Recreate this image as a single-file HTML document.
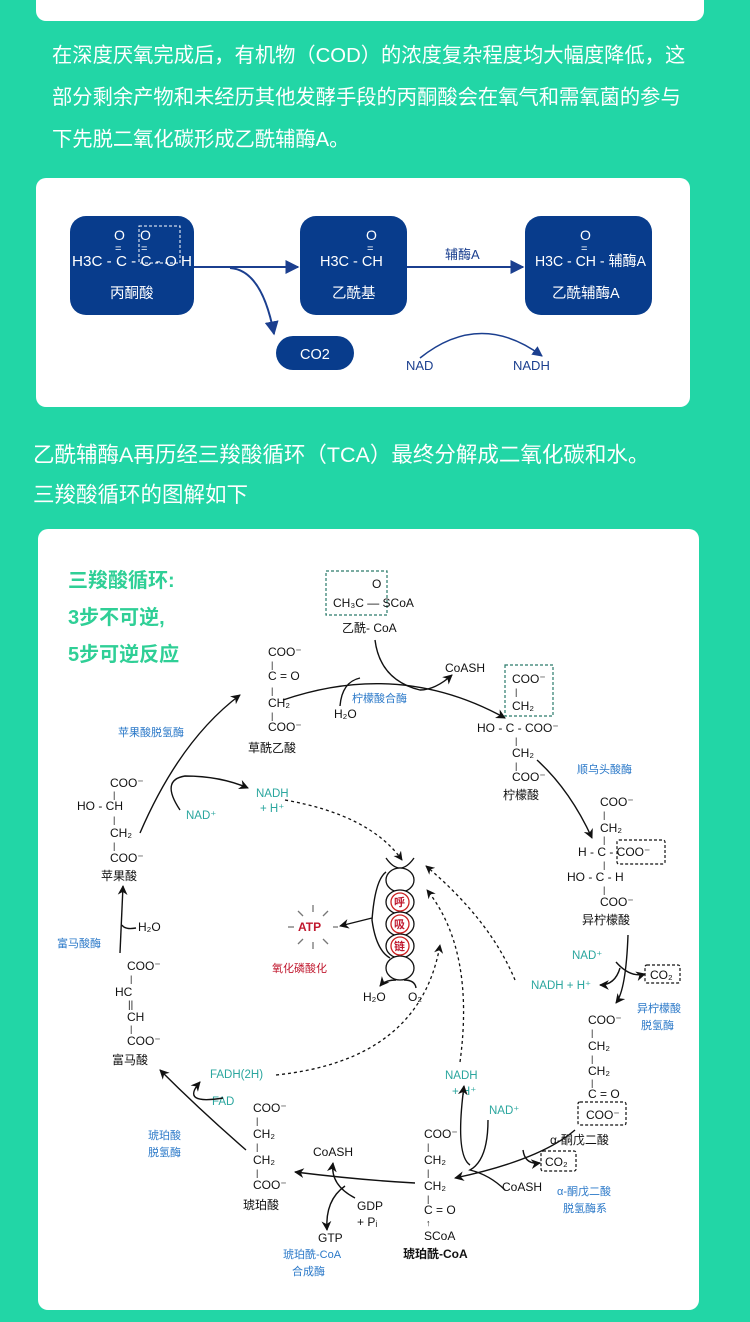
<!DOCTYPE html>
<html><head><meta charset="utf-8"><style>
html,body{margin:0;padding:0;background:#22d6a6;}
body{width:750px;height:1322px;position:relative;overflow:hidden;font-family:"Liberation Sans","Noto Sans CJK SC",sans-serif;}
.card{position:absolute;background:#fff;border-radius:10px;}
.p{position:absolute;color:#fff;line-height:42px;white-space:nowrap;}
svg text{font-family:"Liberation Sans","Noto Sans CJK SC",sans-serif;}
</style></head><body>
<div class="card" style="left:36px;top:-20px;width:668px;height:41px;"></div>
<div class="p" style="left:52px;top:35px;font-size:20.3px;">在深度厌氧完成后，有机物（COD）的浓度复杂程度均大幅度降低，这<br>部分剩余产物和未经历其他发酵手段的丙酮酸会在氧气和需氧菌的参与<br>下先脱二氧化碳形成乙酰辅酶A。</div>
<div class="card" style="left:36px;top:178px;width:654px;height:229px;"></div>
<div class="p" style="left:33px;top:435px;font-size:21.5px;line-height:40px;">乙酰辅酶A再历经三羧酸循环（TCA）最终分解成二氧化碳和水。<br>三羧酸循环的图解如下</div>
<div class="card" style="left:38px;top:529px;width:661px;height:781px;"></div>

<svg style="position:absolute;left:0;top:0" width="750" height="1322" viewBox="0 0 750 1322">
<defs>
<marker id="ab" viewBox="0 0 10 10" refX="9" refY="5" markerWidth="7" markerHeight="7" orient="auto"><path d="M0,0 L10,5 L0,10 z" fill="#1b3f8f"/></marker>
<marker id="ak" viewBox="0 0 10 10" refX="9" refY="5" markerWidth="7" markerHeight="7" orient="auto"><path d="M0,0 L10,5 L0,10 L3,5 z" fill="#111"/></marker>
</defs>
<!-- card 2 -->
<g fill="#083c8c">
<rect x="70" y="216" width="124" height="99" rx="16"/>
<rect x="300" y="216" width="107" height="99" rx="16"/>
<rect x="525" y="216" width="127" height="99" rx="16"/>
<rect x="276" y="336" width="78" height="34" rx="17"/>
</g>
<g fill="#fff" font-size="14.5">
<text x="72" y="266" textLength="120" lengthAdjust="spacingAndGlyphs">H3C - C - C - O H</text>
<text x="110" y="298">丙酮酸</text>
<text x="320" y="266">H3C - CH</text>
<text x="332" y="298">乙酰基</text>
<text x="535" y="266" textLength="111" lengthAdjust="spacingAndGlyphs">H3C - CH - 辅酶A</text>
<text x="552" y="298">乙酰辅酶A</text>
<text x="300" y="359">CO2</text>
<text x="114" y="240" font-size="14">O</text><text x="115" y="252" font-size="11">=</text>
<text x="140" y="240" font-size="14">O</text><text x="141" y="252" font-size="11">=</text>
<text x="366" y="240" font-size="14">O</text><text x="367" y="252" font-size="11">=</text>
<text x="580" y="240" font-size="14">O</text><text x="581" y="252" font-size="11">=</text>
</g>
<rect x="139" y="226" width="41" height="37" fill="none" stroke="#fff" stroke-dasharray="3,2" stroke-width="1"/>
<g stroke="#1b3f8f" stroke-width="2" fill="none">
<line x1="194" y1="267" x2="298" y2="267" marker-end="url(#ab)"/>
<line x1="407" y1="267" x2="523" y2="267" marker-end="url(#ab)"/>
<path d="M230,268 Q262,270 274,334" marker-end="url(#ab)"/>
<path d="M420,358 Q480,310 542,356" stroke-width="1.5" marker-end="url(#ab)"/>
</g>
<g fill="#1b3f8f" font-size="13"><text x="445" y="259">辅酶A</text><text x="406" y="370">NAD</text><text x="513" y="370">NADH</text></g>

<!-- cycle title -->
<g fill="#2fcf96" font-size="20" font-weight="bold">
<text x="68" y="587">三羧酸循环:</text><text x="68" y="624">3步不可逆,</text><text x="68" y="661">5步可逆反应</text>
</g>
<g fill="none" stroke="#2a7a6a" stroke-dasharray="3,2" stroke-width="1.2">
<rect x="326" y="571" width="61" height="44"/>
<rect x="505" y="665" width="48" height="51"/>
</g>
<g fill="none" stroke="#111" stroke-dasharray="3,2" stroke-width="1.2">
<rect x="617" y="840" width="48" height="24" rx="2"/>
<rect x="645" y="965" width="35" height="18" rx="2"/>
<rect x="578" y="1102" width="48" height="23" rx="2"/>
<rect x="541" y="1151" width="35" height="20" rx="2"/>
</g>
<g fill="#111" font-size="12">
<text x="372" y="588">O</text><text x="333" y="607">CH₃C — SCoA</text>
<text x="342" y="632">乙酰- CoA</text>
<text x="268" y="656">COO⁻</text><text x="271" y="668" font-size="9">|</text><text x="268" y="680">C = O</text><text x="271" y="694" font-size="9">|</text><text x="268" y="707">CH₂</text><text x="271" y="719" font-size="9">|</text><text x="268" y="731">COO⁻</text>
<text x="248" y="752">草酰乙酸</text>
<text x="445" y="672">CoASH</text><text x="334" y="718">H₂O</text>
<text x="512" y="683">COO⁻</text><text x="515" y="695" font-size="9">|</text><text x="512" y="710">CH₂</text><text x="477" y="732">HO - C - COO⁻</text><text x="515" y="744" font-size="9">|</text><text x="512" y="757">CH₂</text><text x="515" y="769" font-size="9">|</text><text x="512" y="781">COO⁻</text>
<text x="503" y="799">柠檬酸</text>
<text x="600" y="806">COO⁻</text><text x="603" y="818" font-size="9">|</text><text x="600" y="832">CH₂</text><text x="603" y="843" font-size="9">|</text><text x="578" y="856">H - C - COO⁻</text><text x="603" y="868" font-size="9">|</text><text x="567" y="881">HO - C - H</text><text x="603" y="893" font-size="9">|</text><text x="600" y="906">COO⁻</text>
<text x="582" y="924">异柠檬酸</text>
<text x="650" y="979">CO₂</text>
<text x="588" y="1024">COO⁻</text><text x="591" y="1036" font-size="9">|</text><text x="588" y="1050">CH₂</text><text x="591" y="1062" font-size="9">|</text><text x="588" y="1075">CH₂</text><text x="591" y="1086" font-size="9">|</text><text x="588" y="1098">C = O</text><text x="586" y="1119">COO⁻</text>
<text x="550" y="1144">α-酮戊二酸</text>
<text x="545" y="1166">CO₂</text>
<text x="502" y="1191">CoASH</text>
<text x="424" y="1138">COO⁻</text><text x="427" y="1150" font-size="9">|</text><text x="424" y="1164">CH₂</text><text x="427" y="1176" font-size="9">|</text><text x="424" y="1190">CH₂</text><text x="427" y="1202" font-size="9">|</text><text x="424" y="1214">C = O</text><text x="426" y="1226" font-size="9">↑</text><text x="424" y="1240">SCoA</text>
<text x="403" y="1258" font-weight="bold">琥珀酰-CoA</text>
<text x="313" y="1156">CoASH</text><text x="357" y="1210">GDP</text><text x="357" y="1226">+ Pᵢ</text><text x="318" y="1242">GTP</text>
<text x="253" y="1112">COO⁻</text><text x="256" y="1124" font-size="9">|</text><text x="253" y="1138">CH₂</text><text x="256" y="1150" font-size="9">|</text><text x="253" y="1164">CH₂</text><text x="256" y="1176" font-size="9">|</text><text x="253" y="1189">COO⁻</text>
<text x="243" y="1209">琥珀酸</text>
<text x="127" y="970">COO⁻</text><text x="130" y="982" font-size="9">|</text><text x="115" y="996">HC</text><text x="128" y="1008" font-size="10">||</text><text x="127" y="1021">CH</text><text x="130" y="1032" font-size="9">|</text><text x="127" y="1045">COO⁻</text><text x="112" y="1064">富马酸</text>
<text x="138" y="931">H₂O</text>
<text x="110" y="787">COO⁻</text><text x="113" y="798" font-size="9">|</text><text x="77" y="810">HO - CH</text><text x="113" y="823" font-size="9">|</text><text x="110" y="837">CH₂</text><text x="113" y="849" font-size="9">|</text><text x="110" y="862">COO⁻</text><text x="101" y="880">苹果酸</text>
<text x="363" y="1001">H₂O</text><text x="408" y="1001">O₂</text>
</g>
<g fill="#2a78c8" font-size="11" font-family="Liberation Serif,Noto Serif CJK SC,serif">
<text x="352" y="702">柠檬酸合酶</text><text x="577" y="773">顺乌头酸酶</text>
<text x="637" y="1012">异柠檬酸</text><text x="641" y="1029">脱氢酶</text>
<text x="557" y="1195">α-酮戊二酸</text><text x="563" y="1212">脱氢酶系</text>
<text x="283" y="1258">琥珀酰-CoA</text><text x="292" y="1275">合成酶</text>
<text x="148" y="1139">琥珀酸</text><text x="148" y="1156">脱氢酶</text>
<text x="57" y="947">富马酸酶</text><text x="118" y="736">苹果酸脱氢酶</text>
</g>
<g fill="#2aa69e" font-size="11.5">
<text x="186" y="819">NAD⁺</text><text x="256" y="797">NADH</text><text x="260" y="812">+ H⁺</text>
<text x="572" y="959">NAD⁺</text><text x="531" y="989">NADH + H⁺</text>
<text x="445" y="1079">NADH</text><text x="452" y="1095">+ H⁺</text><text x="489" y="1114">NAD⁺</text>
<text x="210" y="1078">FADH(2H)</text><text x="212" y="1105">FAD</text>
</g>
<g fill="#fff" stroke="#111" stroke-width="1.3">
<path d="M386,858 Q400,878 414,858" fill="none"/>
<ellipse cx="400" cy="880" rx="14" ry="12"/>
<ellipse cx="400" cy="902" rx="14" ry="12"/>
<ellipse cx="400" cy="924" rx="14" ry="12"/>
<ellipse cx="400" cy="946" rx="14" ry="12"/>
<ellipse cx="400" cy="968" rx="14" ry="12"/>
<ellipse cx="400" cy="902" rx="9" ry="9" fill="none" stroke="#c22"/>
<ellipse cx="400" cy="924" rx="9" ry="9" fill="none" stroke="#c22"/>
<ellipse cx="400" cy="946" rx="9" ry="9" fill="none" stroke="#c22"/>
</g>
<g fill="#c0182e" font-size="11" font-weight="bold" font-family="Liberation Serif,Noto Serif CJK SC,serif">
<text x="394" y="906">呼</text><text x="394" y="928">吸</text><text x="394" y="950">链</text>
<text x="298" y="931" font-size="12">ATP</text>
<text x="272" y="972" font-weight="normal">氧化磷酸化</text>
</g>
<g stroke="#777" stroke-width="1.3">
<line x1="313" y1="905" x2="313" y2="912"/><line x1="313" y1="942" x2="313" y2="949"/>
<line x1="298" y1="911" x2="303" y2="916"/><line x1="328" y1="911" x2="323" y2="916"/>
<line x1="298" y1="944" x2="303" y2="939"/><line x1="328" y1="944" x2="323" y2="939"/>
<line x1="288" y1="927" x2="294" y2="927"/><line x1="333" y1="927" x2="338" y2="927"/>
</g>
<g fill="none" stroke="#111" stroke-width="1.4">
<path d="M283,700 Q400,660 505,718" marker-end="url(#ak)"/>
<path d="M375,640 Q380,680 420,690 Q435,690 452,675" marker-end="url(#ak)"/>
<path d="M340,706 Q342,682 360,678"/>
<path d="M537,760 Q570,790 592,838" marker-end="url(#ak)"/>
<path d="M628,935 Q626,990 616,1003" marker-end="url(#ak)"/>
<path d="M616,962 Q630,978 645,974" marker-end="url(#ak)"/>
<path d="M620,968 Q615,985 600,985" marker-end="url(#ak)"/>
<path d="M575,1130 Q540,1160 455,1178" marker-end="url(#ak)"/>
<path d="M523,1150 Q525,1165 540,1163" marker-end="url(#ak)"/>
<path d="M488,1120 Q488,1160 470,1170 Q490,1175 505,1190"/>
<path d="M470,1165 Q455,1155 464,1086" marker-end="url(#ak)"/>
<path d="M415,1183 Q360,1180 295,1172" marker-end="url(#ak)"/>
<path d="M355,1198 Q330,1185 333,1163" marker-end="url(#ak)"/>
<path d="M345,1186 Q325,1200 327,1230" marker-end="url(#ak)"/>
<path d="M246,1150 Q200,1110 160,1070" marker-end="url(#ak)"/>
<path d="M223,1098 Q180,1105 200,1082" marker-end="url(#ak)"/>
<path d="M120,953 L123,886" marker-end="url(#ak)"/>
<path d="M122,925 Q125,930 136,928"/>
<path d="M140,833 Q180,740 240,695" marker-end="url(#ak)"/>
<path d="M180,810 Q160,780 185,776 Q220,776 248,788" marker-end="url(#ak)"/>
<path d="M386,872 Q375,880 372,920 Q376,950 390,958"/>
<path d="M372,918 L340,926" marker-end="url(#ak)"/>
<path d="M396,980 Q385,980 380,986" marker-end="url(#ak)"/>
<path d="M404,980 Q415,980 416,988"/>
</g>
<g fill="none" stroke="#111" stroke-width="1.3" stroke-dasharray="3,3">
<path d="M285,800 Q370,815 402,860" marker-end="url(#ak)"/>
<path d="M515,980 Q490,920 426,866" marker-end="url(#ak)"/>
<path d="M460,1062 Q475,950 427,890" marker-end="url(#ak)"/>
<path d="M276,1075 Q420,1060 440,945" marker-end="url(#ak)"/>
</g>
</svg>
</body></html>
